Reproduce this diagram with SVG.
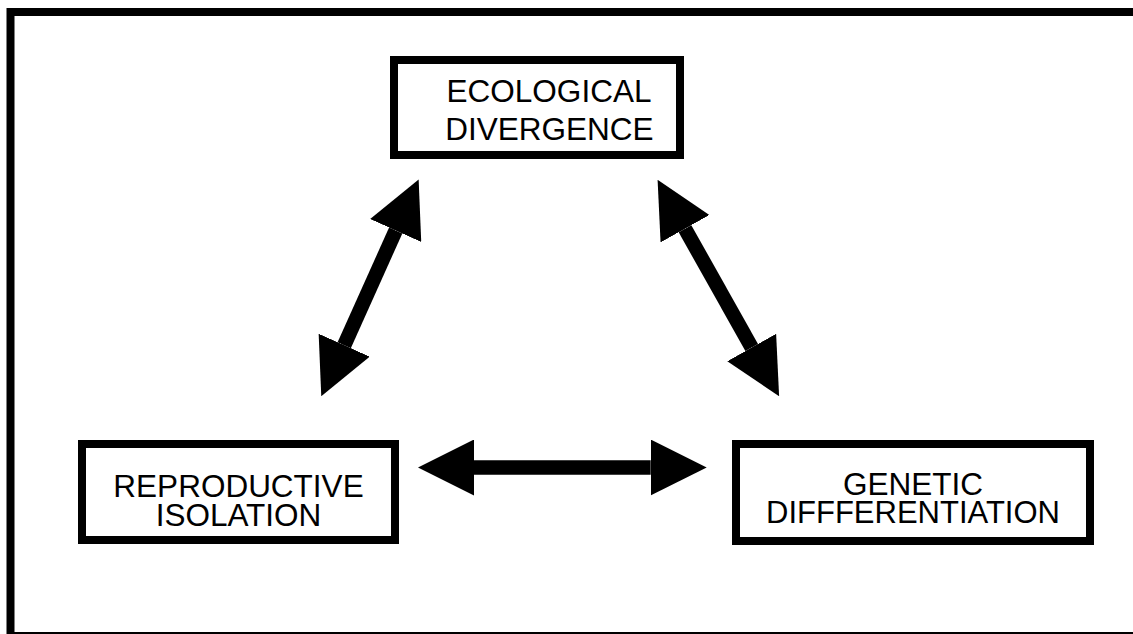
<svg xmlns="http://www.w3.org/2000/svg" width="1133" height="634" viewBox="0 0 1133 634">
<style>
.box{fill:#fff;stroke:#000;stroke-width:8}
.lbl{font-family:"Liberation Sans",Arial,sans-serif;font-size:31.5px;fill:#000;text-anchor:middle}
.conn{stroke:#000;stroke-width:14.5;fill:none;marker-start:url(#head);marker-end:url(#head)}
</style>
<defs>
<marker id="head" markerUnits="userSpaceOnUse" markerWidth="56" markerHeight="56" viewBox="0 0 55 55" refX="0" refY="27.5" orient="auto-start-reverse">
<path d="M0,0 L55,27.5 L0,55 Z" fill="#000"/>
</marker>
</defs>
<rect x="0" y="0" width="1133" height="634" fill="#fff"/>
<rect x="10.5" y="12" width="1130" height="624" fill="none" stroke="#000" stroke-width="8"/>
<g id="connectors">
<line class="conn" x1="344.2" y1="345.2" x2="395.7" y2="230.5"/>
<line class="conn" x1="685" y1="228.7" x2="751.7" y2="347.5"/>
<line class="conn" x1="474" y1="467.5" x2="650.7" y2="467.5"/>
</g>
<g id="ecological">
<rect class="box" x="394" y="60" width="286" height="95"/>
<text class="lbl" x="549" y="101.5">ECOLOGICAL</text>
<text class="lbl" x="549.5" y="140">DIVERGENCE</text>
</g>
<g id="reproductive">
<rect class="box" x="82" y="444" width="313" height="96"/>
<text class="lbl" x="238.5" y="497.3">REPRODUCTIVE</text>
<text class="lbl" x="238.5" y="526">ISOLATION</text>
</g>
<g id="genetic">
<rect class="box" x="736" y="444" width="354" height="97"/>
<text class="lbl" x="913" y="495">GENETIC</text>
<text class="lbl" x="913" y="523.3" style="font-size:31px">DIFFFERENTIATION</text>
</g>
</svg>
